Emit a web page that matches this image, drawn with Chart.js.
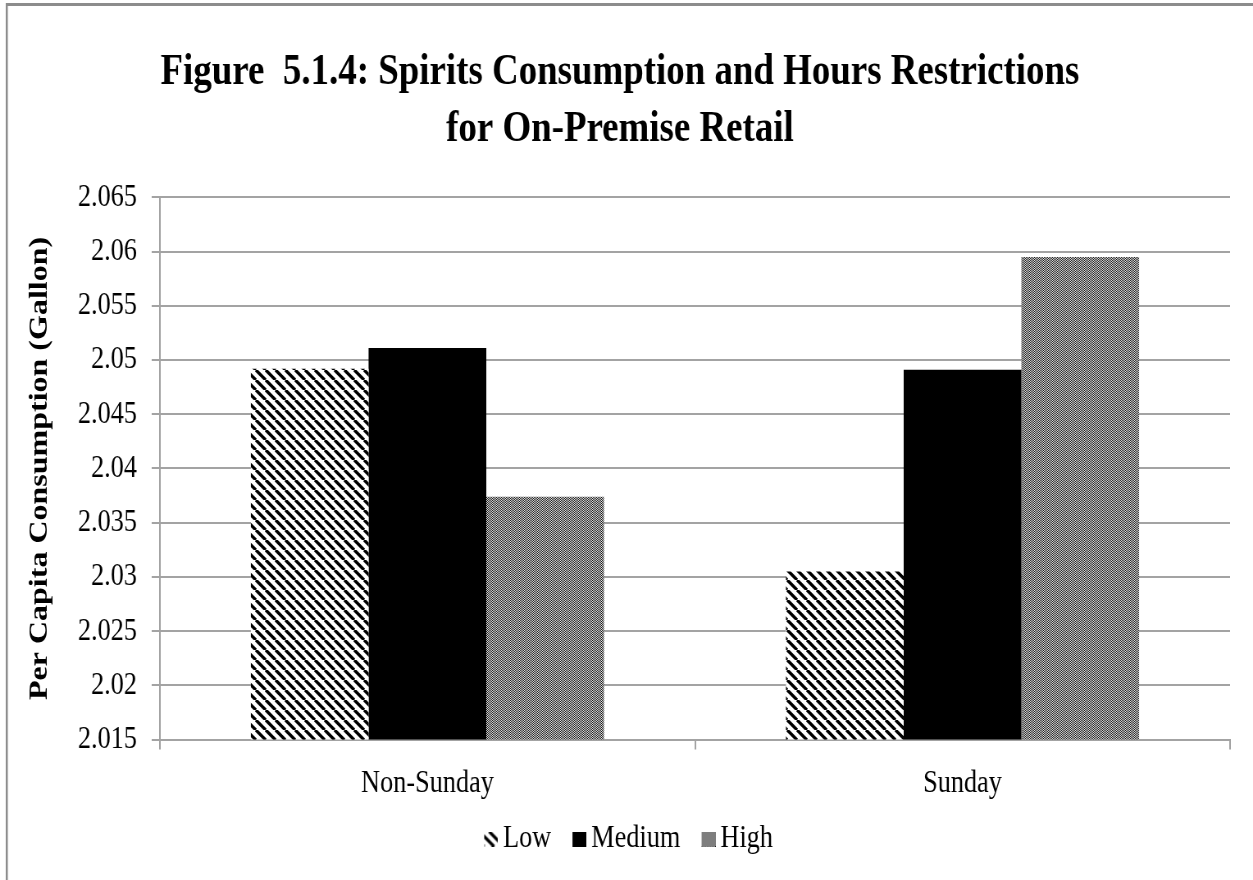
<!DOCTYPE html>
<html>
<head>
<meta charset="utf-8">
<script src="https://cdn.jsdelivr.net/npm/chart.js@4.4.0/dist/chart.umd.min.js"></script>
<style>
  html, body { margin: 0; padding: 0; background: #fff; overflow: hidden; }
  /* the original picture is squeezed sideways: draw 1528 wide, show it 1253 wide */
  #wrap { width: 1528px; height: 880px; transform: scaleX(0.820026); transform-origin: 0 0; }
</style>
</head>
<body>
<div id="wrap"><canvas id="bar-chart" width="1528" height="880"></canvas></div>
<script>
const categories = ['Non-Sunday', 'Sunday'];
const lowValues = [2.0492, 2.0305];
const mediumValues = [2.0511, 2.0491];
const highValues = [2.0374, 2.0595];
const yTicks = [2.015, 2.02, 2.025, 2.03, 2.035, 2.04, 2.045, 2.05, 2.055, 2.06, 2.065];
const titleLines = ['Figure  5.1.4: Spirits Consumption and Hours Restrictions', 'for On-Premise Retail'];

const serif = 'Liberation Serif, Times New Roman, serif';
const gridGray = '#a3a3a3';

// diagonal "\" stripes for Low
function paintStripes(g, w, h) {
  g.fillStyle = '#fff';
  g.fillRect(0, 0, w, h);
  g.strokeStyle = '#000';
  g.lineWidth = 3.4;
  g.beginPath();
  for (let k = -h * 1.2; k < w + h; k += 12) {
    g.moveTo(k, 0);
    g.lineTo(k + h * 1.2, h);
  }
  g.stroke();
}

// fine dot checker for High
function paintChecker(g, w, h) {
  g.fillStyle = '#e2e2e2';
  g.fillRect(0, 0, w, h);
  g.fillStyle = '#1a1a1a';
  for (let y = 0; y < h; y++) {
    for (let x = y % 2; x < w; x += 2) g.fillRect(x, y, 1, 1);
  }
}

function pattern(paint, w, h) {
  const c = document.createElement('canvas');
  c.width = w; c.height = h;
  const g = c.getContext('2d');
  paint(g, w, h);
  return g.createPattern(c, 'repeat');
}

// legend marker: small swatch pushed to the right so it sits close to its text
function marker(paint) {
  const c = document.createElement('canvas');
  c.width = 48; c.height = 15;
  const g = c.getContext('2d');
  g.save();
  g.translate(31, 0);
  g.beginPath();
  g.rect(0, 0, 17, 15);
  g.clip();
  paint(g, 17, 15);
  g.restore();
  return c;
}

function paintSolid(g, w, h) {
  g.fillStyle = '#000';
  g.fillRect(0, 0, w, h);
}

// white page with grey frame on top and left
const framePlugin = {
  id: 'frame',
  beforeDraw(chart) {
    const c = chart.ctx;
    c.save();
    c.fillStyle = '#fff';
    c.fillRect(0, 0, chart.width, chart.height);
    c.fillStyle = '#8c8c8c';
    c.fillRect(7, 3, chart.width - 7, 3);
    c.fillRect(7, 3, 2.5, chart.height - 3);
    c.restore();
  }
};

const ctx = document.getElementById('bar-chart').getContext('2d');
window.myBar = new Chart(ctx, {
  type: 'bar',
  data: {
    labels: categories,
    datasets: [
      { label: 'Low', data: lowValues, backgroundColor: pattern(paintStripes, 12, 10), pointStyle: marker(paintStripes) },
      { label: 'Medium', data: mediumValues, backgroundColor: '#000', pointStyle: marker(paintSolid) },
      { label: 'High', data: highValues, backgroundColor: pattern(paintChecker, 2, 2), pointStyle: marker(paintChecker) }
    ]
  },
  options: {
    responsive: false,
    animation: false,
    devicePixelRatio: 1,
    layout: { padding: { left: 12, right: 28, top: 6, bottom: 15 } },
    datasets: { bar: { categoryPercentage: 0.66, barPercentage: 1 } },
    plugins: {
      title: {
        display: true,
        text: titleLines,
        color: '#000',
        font: { family: serif, size: 45, weight: 'bold', lineHeight: 1.27 },
        padding: { top: 38, bottom: 39 }
      },
      legend: {
        position: 'bottom',
        labels: {
          color: '#000',
          font: { family: serif, size: 32 },
          usePointStyle: true,
          pointStyleWidth: 28,
          boxHeight: 15,
          padding: 5
        }
      },
      tooltip: { enabled: false }
    },
    scales: {
      x: {
        grid: { offset: true, drawOnChartArea: false, tickLength: 10, color: gridGray, lineWidth: 2 },
        border: { color: gridGray, width: 2 },
        ticks: { color: '#000', font: { family: serif, size: 32 }, padding: 15 }
      },
      y: {
        min: 2.015,
        max: 2.065,
        afterBuildTicks: s => { s.ticks = yTicks.map(v => ({ value: v })); },
        afterFit: s => { s.width = 183; },
        ticks: {
          color: '#000',
          font: { family: serif, size: 32 },
          padding: 18,
          callback: v => String(Number(v.toFixed(3)))
        },
        grid: { color: gridGray, lineWidth: 2, tickLength: 10 },
        border: { color: gridGray, width: 2 },
        title: {
          display: true,
          text: 'Per Capita Consumption (Gallon)',
          color: '#000',
          font: { family: serif, size: 32, weight: 'bold' },
          padding: { top: 18, bottom: 0 }
        }
      }
    }
  },
  plugins: [framePlugin]
});
</script>
</body>
</html>
